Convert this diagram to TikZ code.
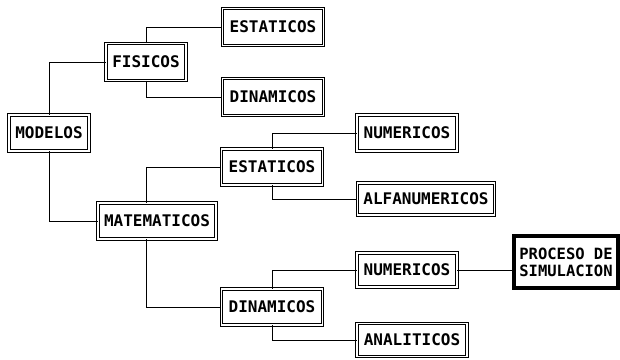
\documentclass[tikz,border=0pt]{standalone}
\usepackage{fontspec}
\newfontfamily\boxfont{DejaVu Sans Mono}
\begin{document}
\begin{tikzpicture}[x=1pt,y=-1pt,
  box/.style={draw, line width=0.9pt, double=white, double distance=1.8pt,
    inner sep=0pt, font=\boxfont\bfseries\fontsize{16}{18}\selectfont, anchor=center},
  bigbox/.style={draw, line width=3.5pt, inner sep=0pt, align=left,
    font=\boxfont\bfseries\fontsize{15.5}{17}\selectfont, anchor=center},
  conn/.style={line width=1pt}]
\useasboundingbox (0,0) rectangle (620,359);
\node[box, minimum width=80, minimum height=36] (modelos) at (49,133) {MODELOS};
\node[box, minimum width=80, minimum height=37] (fisicos) at (146,62) {FISICOS};
\node[box, minimum width=101, minimum height=37] (estf) at (273,27) {ESTATICOS};
\node[box, minimum width=101, minimum height=37] (dinf) at (273,97) {DINAMICOS};
\node[box, minimum width=118, minimum height=36] (mate) at (157,221) {MATEMATICOS};
\node[box, minimum width=101, minimum height=36] (estm) at (272,167) {ESTATICOS};
\node[box, minimum width=101, minimum height=36] (dinm) at (272,307) {DINAMICOS};
\node[box, minimum width=100, minimum height=36] (num1) at (407,133) {NUMERICOS};
\node[box, minimum width=137, minimum height=32] (alfa) at (426,199) {ALFANUMERICOS};
\node[box, minimum width=100, minimum height=34] (num2) at (407,270) {NUMERICOS};
\node[box, minimum width=110, minimum height=33] (anal) at (412,340) {ANALITICOS};
\node[bigbox, minimum width=104, minimum height=52] (proc) at (566,262) {PROCESO DE\\SIMULACION};
\draw[conn] (modelos.north) |- (fisicos.west);
\draw[conn] (modelos.south) |- (mate.west);
\draw[conn] (fisicos.north) |- (estf.west);
\draw[conn] (fisicos.south) |- (dinf.west);
\draw[conn] ([xshift=-11]mate.north) |- (estm.west);
\draw[conn] ([xshift=-11]mate.south) |- (dinm.west);
\draw[conn] (estm.north) |- (num1.west);
\draw[conn] (estm.south) |- (alfa.west);
\draw[conn] (dinm.north) |- (num2.west);
\draw[conn] (dinm.south) |- (anal.west);
\draw[conn] (num2.east) -- (num2.east -| proc.west);
\end{tikzpicture}
\end{document}
